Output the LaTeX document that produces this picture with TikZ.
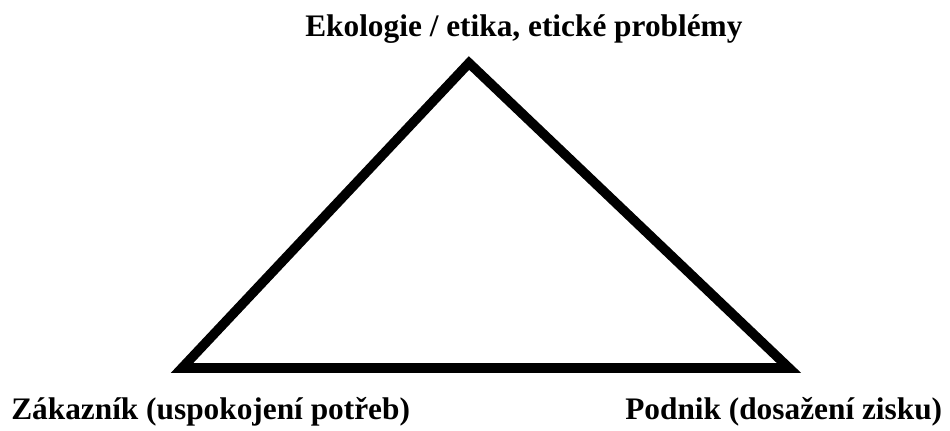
\documentclass[tikz,border=0pt]{standalone}
\usepackage{fontspec}
\setmainfont{Liberation Serif}
\begin{document}
\begin{tikzpicture}[x=0.75pt,y=-0.75pt,
  lbl/.style={font=\bfseries\fontsize{23.5}{27}\selectfont, inner sep=0pt},
  tri/.style={line width=7.2pt, line join=miter, miter limit=10}]
\useasboundingbox (0,0) rectangle (950,431);
\coordinate (top) at (469,63);
\coordinate (bl) at (182,368);
\coordinate (br) at (789,368);
\draw[tri] (top) -- (bl) -- (br) -- cycle;
\node[lbl, anchor=base west] (t) at (305,37) {Ekologie / etika, etické problémy};
\node[lbl, anchor=base west] (l) at (11,419) {Zákazník (uspokojení potřeb)};
\node[lbl, anchor=base west] (r) at (625,419) {Podnik (dosažení zisku)};
\end{tikzpicture}
\end{document}
